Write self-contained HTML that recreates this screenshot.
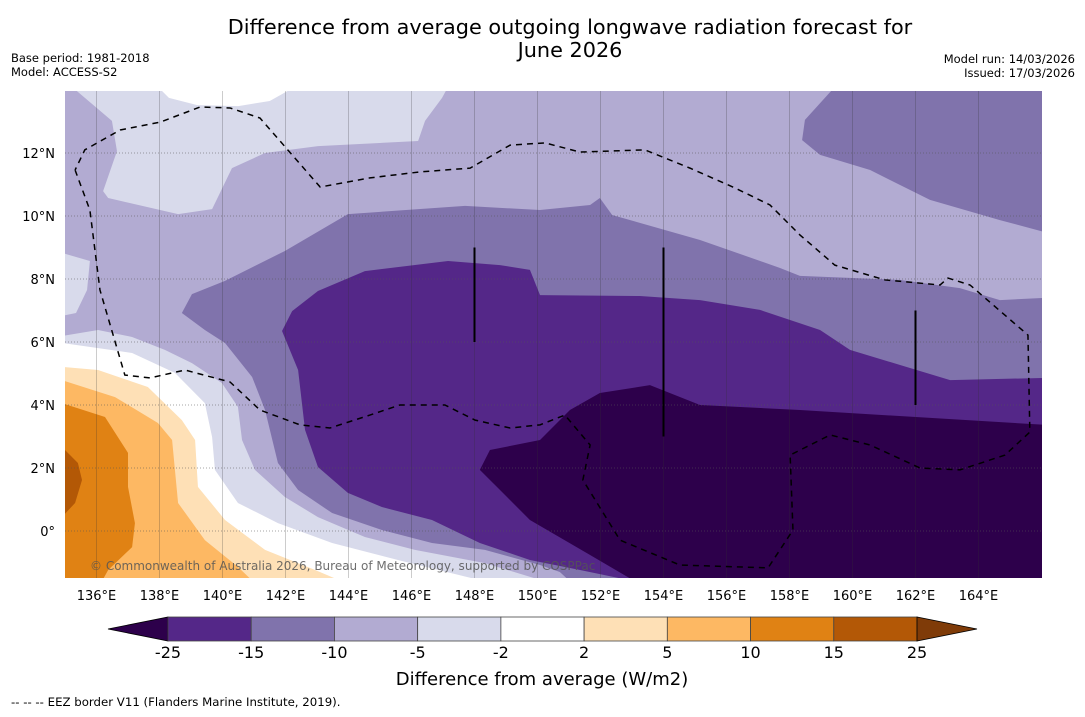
<!DOCTYPE html>
<html><head><meta charset="utf-8"><style>
body{margin:0;background:#fff;width:1085px;height:713px;overflow:hidden;font-family:"DejaVu Sans","Liberation Sans",sans-serif}
svg text{font-family:"DejaVu Sans","Liberation Sans",sans-serif}
</style></head><body>
<svg id="chart" width="1085" height="713" xmlns="http://www.w3.org/2000/svg">
<text x="570" y="34" font-size="20.8" text-anchor="middle">Difference from average outgoing longwave radiation forecast for</text>
<text x="570" y="57" font-size="20.8" text-anchor="middle">June 2026</text>
<text x="11" y="62" font-size="11.5">Base period: 1981-2018</text>
<text x="11" y="76" font-size="11.5">Model: ACCESS-S2</text>
<text x="1075" y="63" font-size="11.5" text-anchor="end">Model run: 14/03/2026</text>
<text x="1075" y="77" font-size="11.5" text-anchor="end">Issued: 17/03/2026</text>
<defs><clipPath id="mapclip"><rect x="65" y="91" width="977" height="487"/></clipPath></defs>
<g id="map" clip-path="url(#mapclip)"></g>
<g id="axes"></g>
<g id="cbar"></g>
<text x="542" y="685" font-size="18" text-anchor="middle">Difference from average (W/m2)</text>
<text x="11" y="706" font-size="11.75">--  --  -- EEZ border V11 (Flanders Marine Institute, 2019).</text>
</svg>
<script>
const lonTicks=[136,138,140,142,144,146,148,150,152,154,156,158,160,162,164];
const latTicks=[0,2,4,6,8,10,12];
const cbarLevels=[-25,-15,-10,-5,-2,2,5,10,15,25];
const cbarColors=["#2d004b","#542788","#8073ac","#b2abd2","#d8daeb","#ffffff","#fee0b6","#fdb863","#e08214","#b35806","#7f3b08"];
const bgColor="#b2abd2";
const contourColors=["#d8daeb","#ffffff","#d8daeb","#d8daeb","#ffffff","#fee0b6","#fdb863","#e08214","#b35806","#8073ac","#8073ac","#542788","#2d004b"];
const contourNames=["light-top","white-top","light-left-blob","light-band","white-band","pos-2-5","pos-5-10","pos-10-15","pos-15-25","neg-10-15","neg-10-15-ne","neg-15-25","neg-below-25"];
const contours=[
[[135.22,14.1],[136.49,13.02],[136.65,12.06],[136.21,10.79],[136.37,10.57],[138.59,10.06],[139.67,10.22],[140.3,11.52],[141.35,12.0],[143.03,12.22],[146.21,12.38],[146.43,13.02],[146.97,13.75],[147.16,14.1]],
[[137.95,14.1],[138.3,13.75],[139.2,13.52],[140.5,13.49],[141.5,13.65],[142.3,14.1]],
[[134.9,8.83],[135.79,8.57],[135.7,7.65],[135.35,6.92],[134.9,6.83]],
[[134.9,6.19],[136.05,6.38],[137.13,6.16],[138.17,5.75],[139.03,5.33],[139.98,4.7],[140.49,3.94],[140.62,2.89],[141.03,1.94],[141.98,1.08],[143.03,0.44],[144.52,-0.19],[146.11,-0.6],[148.33,-1.02],[150.24,-1.6],[134.9,-1.6]],
[[134.9,5.97],[137.13,5.65],[138.49,5.02],[139.44,4.06],[139.67,2.98],[139.76,1.94],[140.49,0.89],[141.76,0.25],[143.48,-0.38],[145.57,-0.92],[148.33,-1.6],[134.9,-1.6]],
[[134.9,5.21],[136.05,5.11],[137.63,4.57],[138.71,3.52],[139.13,2.89],[139.22,1.4],[140.08,0.35],[141.35,-0.6],[142.94,-1.24],[143.8,-1.6],[134.9,-1.6]],
[[134.9,4.79],[136.59,4.25],[137.95,3.43],[138.4,2.89],[138.49,1.94],[138.59,0.89],[139.44,-0.29],[140.49,-1.14],[140.97,-1.6],[134.9,-1.6]],
[[134.9,4.06],[136.27,3.62],[137.0,2.48],[137.0,1.4],[137.22,0.25],[137.13,-0.51],[136.37,-1.24],[136.17,-1.6],[134.9,-1.6]],
[[134.9,2.67],[135.41,2.16],[135.54,1.62],[135.32,0.89],[134.9,0.44]],
[[138.71,6.92],[139.03,7.52],[140.08,7.94],[141.98,8.89],[143.98,10.06],[147.7,10.32],[150.08,10.19],[151.67,10.35],[151.98,10.57],[152.37,10.03],[155.16,9.24],[157.7,8.35],[158.33,8.1],[161.51,7.97],[163.41,7.71],[164.68,7.33],[166.1,7.4],[166.1,-1.6],[151.03,-1.6],[150.71,-1.3],[150.08,-1.08],[148.33,-0.6],[146.65,-0.38],[145.06,0.03],[143.48,0.57],[142.4,1.3],[141.76,2.16],[141.35,3.84],[140.94,4.89],[140.08,5.97],[139.44,6.38]],
[[159.44,14.1],[158.49,13.05],[158.4,12.41],[158.97,11.94],[160.56,11.46],[162.46,10.51],[164.68,9.87],[166.1,9.49],[166.1,14.1]],
[[141.89,6.35],[142.21,6.98],[143.03,7.62],[144.52,8.25],[147.16,8.57],[148.81,8.44],[149.76,8.29],[150.08,7.49],[153.25,7.46],[155.16,7.33],[157.06,7.02],[158.97,6.38],[159.92,5.75],[161.51,5.27],[163.1,4.79],[166.1,4.86],[166.1,-1.6],[153.1,-1.6],[151.35,-1.24],[149.76,-0.92],[148.17,-0.38],[146.65,0.35],[145.06,0.76],[143.98,1.21],[143.03,2.03],[142.62,3.21],[142.4,5.11]],
[[148.17,1.94],[148.49,2.57],[150.08,2.89],[151.03,3.84],[151.98,4.38],[153.57,4.63],[155.16,4.0],[158.33,3.84],[166.1,3.37],[166.1,-1.6],[153.1,-1.6],[151.67,-0.76],[149.76,0.35],[148.81,1.3]]
];
const eez=[[135.32,11.46],[135.79,10.19],[136.11,7.65],[136.9,4.95],[137.7,4.86],[138.81,5.11],[140.24,4.73],[141.19,3.84],[142.46,3.37],[143.41,3.27],[144.68,3.68],[145.63,4.0],[147.06,4.0],[148.02,3.52],[149.13,3.27],[150.08,3.37],[150.87,3.68],[151.67,2.73],[151.44,1.62],[152.62,-0.29],[154.52,-1.08],[157.32,-1.17],[158.11,0.03],[158.02,2.41],[159.29,3.05],[160.56,2.73],[162.14,2.0],[163.41,1.94],[164.84,2.41],[165.63,3.14],[165.57,6.22],[163.73,7.81],[163.03,8.03],[162.78,7.81],[161.03,7.97],[159.44,8.44],[158.33,9.4],[157.38,10.35],[156.27,10.89],[154.84,11.52],[153.41,12.1],[151.35,12.03],[150.24,12.32],[149.13,12.25],[147.86,11.52],[146.27,11.4],[144.68,11.21],[143.1,10.92],[141.19,13.11],[140.24,13.43],[139.29,13.46],[138.02,12.98],[136.75,12.73],[135.63,12.1],[135.32,11.46]];
const segLines=[[148,9,6],[154,9,3],[162,7,4]];

const NS="http://www.w3.org/2000/svg";
const X=lon=>65+(lon-135)*31.5;
const Y=lat=>531-lat*31.5;
function mk(tag,attrs,parent){const e=document.createElementNS(NS,tag);for(const k in attrs)e.setAttribute(k,attrs[k]);parent.appendChild(e);return e;}
const map=document.getElementById('map');
const bg=mk('rect',{x:65,y:91,width:977,height:487,fill:bgColor},map);


contours.forEach((poly,i)=>{
  const p=mk('polygon',{points:poly.map(d=>X(d[0])+','+Y(d[1])).join(' '),fill:contourColors[i]},map);
  
  
});
latTicks.forEach(t=>{
  const l=mk('line',{x1:65,x2:1042,y1:Y(t),y2:Y(t),stroke:'#555','stroke-width':0.8,'stroke-dasharray':'1,2',opacity:0.7},map);
  
  
});
lonTicks.forEach(t=>{
  const l=mk('line',{x1:X(t),x2:X(t),y1:91,y2:578,stroke:'#333','stroke-width':0.7,opacity:0.35},map);
  
  
});
const ez=mk('polyline',{points:eez.map(d=>X(d[0])+','+Y(d[1])).join(' '),fill:'none',stroke:'#000','stroke-width':1.5,'stroke-dasharray':'6,5'},map);


segLines.forEach(s=>{
  const l=mk('line',{x1:X(s[0]),x2:X(s[0]),y1:Y(s[1]),y2:Y(s[2]),stroke:'#000','stroke-width':2},map);
  
  
});
const cr=mk('text',{x:90,y:570,'font-size':12,fill:'#555','fill-opacity':0.85},map);
cr.textContent='© Commonwealth of Australia 2026, Bureau of Meteorology, supported by COSPPac';


const axes=document.getElementById('axes');
lonTicks.forEach(t=>{
  const e=mk('text',{x:X(t),y:600,'font-size':13,'text-anchor':'middle'},axes);
  e.textContent=t+'°E';
  
  
});
latTicks.forEach(t=>{
  const e=mk('text',{x:55,y:Y(t)+5,'font-size':13,'text-anchor':'end'},axes);
  e.textContent=t===0?'0°':t+'°N';
  
  
});
const cb=document.getElementById('cbar');
const cx0=168,cx1=917,cy=617,ch=24,n=cbarLevels.length-1,w=(cx1-cx0)/n;
const lt=mk('polygon',{points:`${cx0},${cy} ${cx0},${cy+ch} 108,${cy+ch/2}`,fill:cbarColors[0],stroke:'#000','stroke-width':0.8},cb);


for(let i=0;i<n;i++){
  const r=mk('rect',{x:cx0+i*w,y:cy,width:w,height:ch,fill:cbarColors[i+1],stroke:'#444','stroke-width':0.8},cb);
  
  
}
const rt=mk('polygon',{points:`${cx1},${cy} ${cx1},${cy+ch} 977,${cy+ch/2}`,fill:cbarColors[cbarColors.length-1],stroke:'#000','stroke-width':0.8},cb);


cbarLevels.forEach((v,i)=>{
  const e=mk('text',{x:cx0+i*w,y:658,'font-size':16,'text-anchor':'middle'},cb);
  e.textContent=v;
  
  
});
</script>
</body></html>
